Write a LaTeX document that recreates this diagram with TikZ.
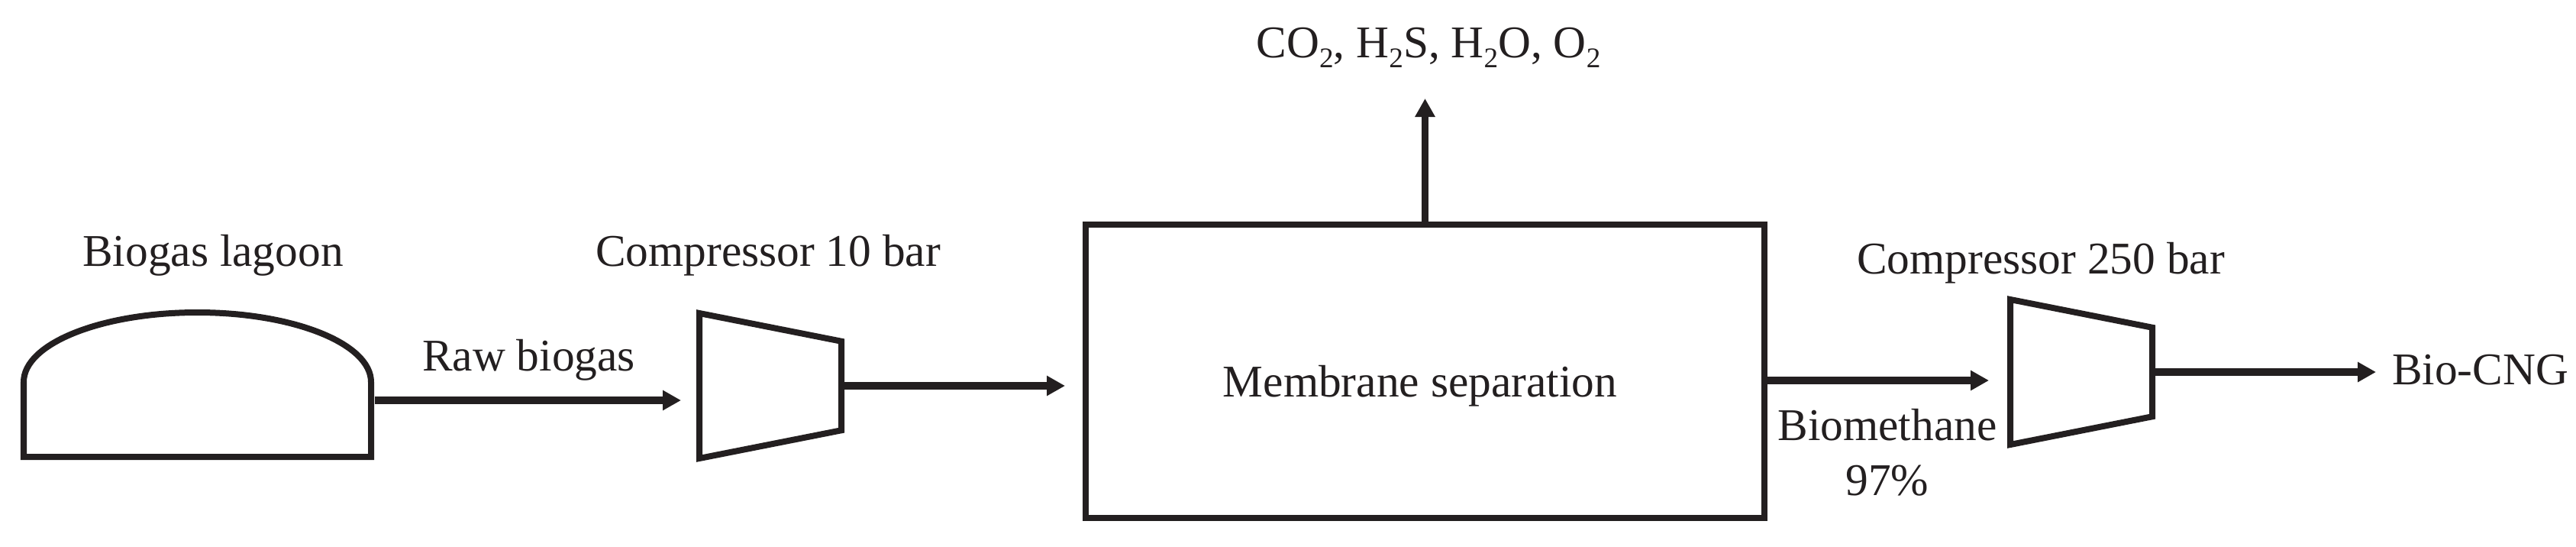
\documentclass[tikz,border=0pt]{standalone}
\usepackage{fontspec}
\setmainfont{Liberation Serif}
\usetikzlibrary{arrows.meta, shapes.geometric}
\definecolor{ink}{HTML}{231F20}
\newcommand{\subtwo}{\raisebox{-3.7pt}{\fontsize{10.6}{11}\selectfont 2}}

\begin{document}
\begin{tikzpicture}
	[every node/.style={inner sep=0pt, outer sep=0pt, text=ink, font=\fontsize{16.9}{20.4}\selectfont},
	tag/.style={anchor=base, align=center},
	unit/.style={draw=ink, line width=0.08cm, line join=miter},
	compressor/.style={unit, trapezium, shape border rotate=270, trapezium stretches=true, inner sep=2pt,
		trapezium angle=72.5, minimum width=1.9cm, minimum height=1.86cm},
	flow/.style={draw=ink, line width=0.095cm, -{Triangle[length=0.24cm, width=0.25cm]}}]
	\useasboundingbox (0,0) rectangle (33.74,7.15);
	% lagoon
	\draw[unit] (0.31,1.17) -- (0.31,2.15) arc [start angle=180, end angle=0, x radius=2.275, y radius=0.91] -- (4.86,1.17) -- cycle;
	\node[tag] (lagoontag) at (2.79,3.67) {Biogas lagoon};
	\coordinate (lagoonout) at (4.91,1.91);
	\coordinate (rawend) at (8.92,1.91);
	\node[tag] (rawtag) at (6.925,2.30) {Raw biogas};
	% first compressor
	\node[compressor] (compa) at (10.09,2.10) {};
	\node[tag] (compatag) at (10.06,3.67) {Compressor 10 bar};
	\coordinate (memin) at (13.95,2.10);
	% membrane
	\node[unit, rectangle, minimum width=8.89cm, minimum height=3.84cm] (membrane) at (18.665,2.29) {};
	\node[tag] (memtag) at (18.60,1.96) {Membrane separation};
	\coordinate (gasend) at (18.665,5.86);
	\node[tag] (gastag) at (18.71,6.40) {CO\subtwo, H\subtwo S, H\subtwo O, O\subtwo};
	\coordinate (memout) at (23.13,2.17);
	\coordinate (biomend) at (26.05,2.17);
	\node[tag] (biomtag) at (24.72,0.67) {Biomethane \\ 97\%};
	% second compressor
	\node[compressor] (compb) at (27.26,2.28) {};
	\node[tag] (compbtag) at (26.73,3.57) {Compressor 250 bar};
	\coordinate (cngend) at (31.12,2.28);
	\node[anchor=base west] (cng) at (31.33,2.12) {Bio-CNG};
	% connectors
	\draw[flow] (lagoonout) -- (rawend);
	\draw[flow] (compa.east) -- (memin);
	\draw[flow] (membrane.north) -- (gasend);
	\draw[flow] (memout) -- (biomend);
	\draw[flow] (compb.east) -- (cngend);
\end{tikzpicture}
\end{document}
